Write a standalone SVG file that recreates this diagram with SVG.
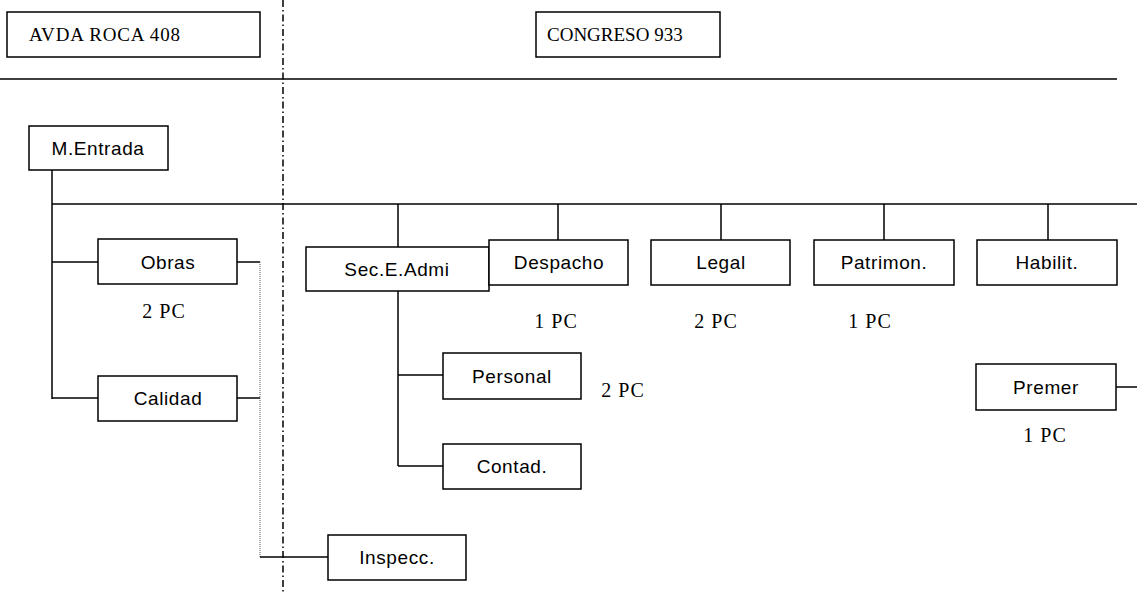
<svg xmlns="http://www.w3.org/2000/svg" width="1137" height="594" viewBox="0 0 1137 594">
<style>
.box{fill:#fff;stroke:#000;stroke-width:1.5}
.lbl{font-family:"Liberation Sans",Arial,sans-serif;font-size:19px;letter-spacing:0.6px;fill:#000;text-anchor:middle}
.hdr{font-family:"Liberation Serif","Times New Roman",serif;font-size:19px;fill:#000}
.pc{font-family:"Liberation Serif","Times New Roman",serif;font-size:20px;letter-spacing:1px;fill:#000;text-anchor:middle}
.ln{stroke:#000;stroke-width:1.5;fill:none}
.dot{stroke:#555;stroke-width:1;stroke-dasharray:1 1;fill:none}
.dd{stroke:#000;stroke-width:1.5;stroke-dasharray:7 3 1.5 3;fill:none}
</style>
<rect width="1137" height="594" fill="#fff"/>
<g id="dividers">
<line class="dd" x1="283" y1="0" x2="283" y2="594"/>
<line class="ln" x1="0" y1="79" x2="1117" y2="79"/>
</g>
<g id="connectors">
<line class="ln" x1="52" y1="170" x2="52" y2="399"/>
<line class="ln" x1="52" y1="204" x2="1137" y2="204"/>
<line class="ln" x1="52" y1="262" x2="98" y2="262"/>
<line class="ln" x1="52" y1="398" x2="98" y2="398"/>
<line class="ln" x1="237" y1="262" x2="260" y2="262"/>
<line class="ln" x1="237" y1="398" x2="260" y2="398"/>
<line class="dot" x1="260" y1="262" x2="260" y2="557"/>
<line class="ln" x1="260" y1="557" x2="328" y2="557"/>
<line class="ln" x1="398" y1="204" x2="398" y2="247"/>
<line class="ln" x1="398" y1="291" x2="398" y2="466"/>
<line class="ln" x1="398" y1="375" x2="443" y2="375"/>
<line class="ln" x1="398" y1="466" x2="443" y2="466"/>
<line class="ln" x1="558" y1="204" x2="558" y2="240"/>
<line class="ln" x1="721" y1="204" x2="721" y2="240"/>
<line class="ln" x1="884" y1="204" x2="884" y2="240"/>
<line class="ln" x1="1048" y1="204" x2="1048" y2="240"/>
<line class="ln" x1="1116" y1="387" x2="1137" y2="387"/>
</g>
<g id="avda"><rect class="box" x="7" y="12" width="253" height="45"/><text class="hdr" x="29" y="41" textLength="151">AVDA ROCA 408</text></g>
<g id="congreso"><rect class="box" x="536" y="12" width="184" height="45"/><text class="hdr" x="547" y="41" font-size="15">CONGRESO 933</text></g>
<g id="mentrada"><rect class="box" x="29" y="126" width="139" height="44"/><text class="lbl" x="98" y="155">M.Entrada</text></g>
<g id="obras"><rect class="box" x="98" y="239" width="139" height="45"/><text class="lbl" x="168" y="269">Obras</text><text class="pc" x="164" y="318">2 PC</text></g>
<g id="calidad"><rect class="box" x="98" y="376" width="139" height="45"/><text class="lbl" x="168" y="405">Calidad</text></g>
<g id="inspecc"><rect class="box" x="328" y="535" width="138" height="45"/><text class="lbl" x="397" y="564">Inspecc.</text></g>
<g id="secadmi"><rect class="box" x="306" y="247" width="183" height="44"/><text class="lbl" x="397" y="276">Sec.E.Admi</text></g>
<g id="despacho"><rect class="box" x="489" y="240" width="139" height="45"/><text class="lbl" x="559" y="269">Despacho</text><text class="pc" x="556" y="328">1 PC</text></g>
<g id="legal"><rect class="box" x="651" y="240" width="139" height="45"/><text class="lbl" x="721" y="269">Legal</text><text class="pc" x="716" y="328">2 PC</text></g>
<g id="patrimon"><rect class="box" x="814" y="240" width="140" height="45"/><text class="lbl" x="884" y="269">Patrimon.</text><text class="pc" x="870" y="328">1 PC</text></g>
<g id="habilit"><rect class="box" x="977" y="240" width="140" height="45"/><text class="lbl" x="1047" y="269">Habilit.</text></g>
<g id="personal"><rect class="box" x="443" y="353" width="138" height="46"/><text class="lbl" x="512" y="383">Personal</text><text class="pc" x="623" y="397">2 PC</text></g>
<g id="contad"><rect class="box" x="443" y="444" width="138" height="45"/><text class="lbl" x="512" y="473">Contad.</text></g>
<g id="premer"><rect class="box" x="976" y="364" width="140" height="46"/><text class="lbl" x="1046" y="394">Premer</text><text class="pc" x="1045" y="442">1 PC</text></g>
</svg>
